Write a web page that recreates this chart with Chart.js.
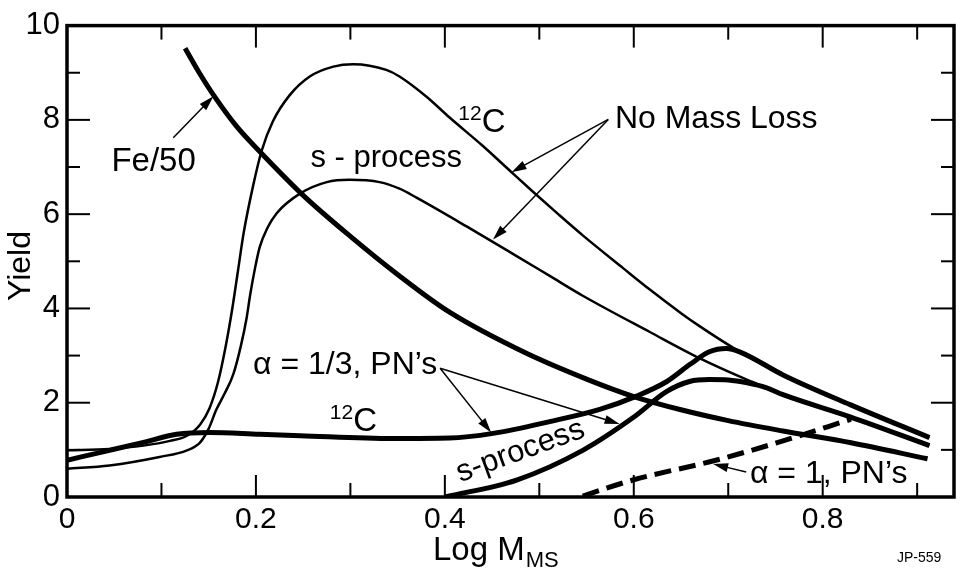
<!DOCTYPE html>
<html>
<head>
<meta charset="utf-8">
<script src="https://cdn.jsdelivr.net/npm/chart.js@4.4.1/dist/chart.umd.min.js"></script>
<style>
  html, body { margin: 0; padding: 0; background: #fff; }
  #wrap { width: 971px; height: 570px; position: relative; }
</style>
</head>
<body>
<div id="wrap"><canvas id="chart"></canvas></div>
<script>
// values (x = Log M_MS, y = yield)
const fe50X = [0.125, 0.14, 0.155, 0.18, 0.204, 0.25, 0.30, 0.352, 0.405, 0.483, 0.55, 0.60, 0.65, 0.70, 0.758, 0.83, 0.911];
const fe50Y = [9.52, 9.00, 8.53, 7.85, 7.33, 6.40, 5.53, 4.69, 3.92, 3.08, 2.50, 2.13, 1.85, 1.62, 1.40, 1.15, 0.81];

const c12X = [0, 0.045, 0.081, 0.109, 0.127, 0.141, 0.151, 0.16, 0.168, 0.175, 0.181, 0.187, 0.197, 0.206, 0.218, 0.236, 0.257, 0.282, 0.303, 0.338, 0.352, 0.38, 0.405, 0.44, 0.47, 0.493, 0.52, 0.546, 0.589, 0.617, 0.65, 0.67, 0.705, 0.758, 0.829, 0.913];
const c12Y = [0.99, 1.02, 1.09, 1.19, 1.30, 1.54, 1.89, 2.45, 3.20, 4.00, 4.80, 5.60, 6.60, 7.34, 7.97, 8.53, 8.92, 9.13, 9.18, 9.06, 8.92, 8.50, 8.05, 7.45, 6.90, 6.48, 6.00, 5.55, 4.85, 4.40, 3.90, 3.62, 3.17, 2.59, 1.96, 1.26];

const sprocX = [0, 0.045, 0.098, 0.127, 0.141, 0.15, 0.158, 0.167, 0.176, 0.184, 0.19, 0.194, 0.199, 0.204, 0.212, 0.222, 0.247, 0.275, 0.299, 0.331, 0.352, 0.37, 0.423, 0.476, 0.511, 0.546, 0.617, 0.67, 0.716, 0.74, 0.758, 0.829, 0.913];
const sprocY = [0.60, 0.67, 0.85, 0.99, 1.16, 1.45, 1.85, 2.20, 2.60, 3.20, 3.78, 4.30, 4.85, 5.30, 5.70, 6.02, 6.44, 6.68, 6.73, 6.68, 6.54, 6.35, 5.74, 5.11, 4.69, 4.27, 3.50, 2.94, 2.52, 2.32, 2.17, 1.70, 1.09];

const c12LossX = [0, 0.045, 0.081, 0.116, 0.151, 0.204, 0.247, 0.345, 0.405, 0.451, 0.511, 0.564, 0.603, 0.635, 0.66, 0.68, 0.698, 0.712, 0.758, 0.829, 0.913];
const c12LossY = [0.78, 0.99, 1.16, 1.33, 1.37, 1.33, 1.30, 1.24, 1.25, 1.35, 1.60, 1.86, 2.14, 2.45, 2.82, 3.08, 3.15, 3.08, 2.59, 1.96, 1.26];

const sprocLossX = [0.40, 0.476, 0.546, 0.599, 0.635, 0.659, 0.68, 0.70, 0.72, 0.74, 0.758, 0.829, 0.913];
const sprocLossY = [0, 0.36, 0.99, 1.68, 2.24, 2.45, 2.49, 2.48, 2.42, 2.32, 2.17, 1.70, 1.09];

const alpha1X = [0.546, 0.599, 0.687, 0.758, 0.83];
const alpha1Y = [0.02, 0.36, 0.78, 1.19, 1.65];

const xTickLabels = [0, 0.2, 0.4, 0.6, 0.8];
const yTickLabels = [0, 2, 4, 6, 8, 10];

// annotation arrows, in data coordinates: [tailX, tailY, headX, headY]
const arrows = [
  [0.1125, 7.62, 0.155, 8.50],
  [0.573, 8.01, 0.4706, 6.89],
  [0.573, 8.01, 0.451, 5.46],
  [0.395, 2.73, 0.449, 1.37],
  [0.395, 2.73, 0.585, 1.55],
  [0.719, 0.53, 0.684, 0.70]
];

const FONT = "'Liberation Sans', Arial, sans-serif";
Chart.defaults.font.family = FONT;
Chart.defaults.color = '#000';

function pts(xs, ys) {
  return xs.map((v, i) => ({ x: v, y: ys[i] }));
}

function curve(label, xs, ys, width, dash) {
  return {
    label: label,
    data: pts(xs, ys),
    borderColor: '#000',
    backgroundColor: '#000',
    borderWidth: width,
    borderDash: dash || [],
    pointRadius: 0,
    fill: false,
    cubicInterpolationMode: 'monotone'
  };
}

const decorations = {
  id: 'decorations',
  afterDraw(chart) {
    const { ctx, chartArea: a, scales } = chart;
    const X = v => scales.x.getPixelForValue(v);
    const Y = v => scales.y.getPixelForValue(v);
    const line = (x1, y1, x2, y2) => {
      ctx.beginPath(); ctx.moveTo(x1, y1); ctx.lineTo(x2, y2); ctx.stroke();
    };
    ctx.save();
    ctx.strokeStyle = '#000';
    ctx.fillStyle = '#000';

    // frame
    ctx.lineWidth = 3.5;
    ctx.strokeRect(a.left, a.top, a.right - a.left, a.bottom - a.top);

    // inward ticks on all four sides
    ctx.lineWidth = 2;
    for (let i = 1; i <= 9; i++) {
      const px = X(i / 10);
      const len = i % 2 ? 14 : 22;
      line(px, a.bottom, px, a.bottom - len);
      line(px, a.top, px, a.top + len);
    }
    for (let j = 1; j <= 9; j++) {
      const py = Y(j);
      const len = j % 2 ? 13 : 23;
      line(a.left, py, a.left + len, py);
      line(a.right, py, a.right - len, py);
    }

    // arrows
    ctx.lineWidth = 1.5;
    arrows.forEach(ar => {
      const x1 = X(ar[0]), y1 = Y(ar[1]), x2 = X(ar[2]), y2 = Y(ar[3]);
      const ang = Math.atan2(y2 - y1, x2 - x1);
      line(x1, y1, x2 - 10 * Math.cos(ang), y2 - 10 * Math.sin(ang));
      ctx.beginPath();
      ctx.moveTo(x2, y2);
      ctx.lineTo(x2 - 15 * Math.cos(ang) + 4.5 * Math.sin(ang), y2 - 15 * Math.sin(ang) - 4.5 * Math.cos(ang));
      ctx.lineTo(x2 - 15 * Math.cos(ang) - 4.5 * Math.sin(ang), y2 - 15 * Math.sin(ang) + 4.5 * Math.cos(ang));
      ctx.closePath();
      ctx.fill();
    });

    // labels
    const text = (s, xv, yv, size, align) => {
      ctx.font = size + 'px ' + FONT;
      ctx.textAlign = align || 'left';
      ctx.textBaseline = 'alphabetic';
      ctx.fillText(s, X(xv), Y(yv));
    };
    const isotope = (xv, yv) => {
      const px = X(xv), py = Y(yv);
      ctx.textAlign = 'right';
      ctx.textBaseline = 'alphabetic';
      ctx.font = '21px ' + FONT;
      ctx.fillText('12', px, py - 12);
      ctx.textAlign = 'left';
      ctx.font = '33px ' + FONT;
      ctx.fillText('C', px, py);
    };

    text('Fe/50', 0.047, 6.92, 33);
    text('s - process', 0.338, 7.0, 31, 'center');
    isotope(0.439, 7.74);
    text('No Mass Loss', 0.58, 7.82, 32);
    text('\u03b1 = 1/3, PN\u2019s', 0.197, 2.60, 32);
    isotope(0.303, 1.40);
    text('\u03b1 = 1, PN\u2019s', 0.723, 0.29, 32);

    // rotated s-process along the thick curve
    ctx.save();
    ctx.translate(X(0.480), Y(0.97));
    ctx.rotate(-20 * Math.PI / 180);
    ctx.font = '31px ' + FONT;
    ctx.textAlign = 'center';
    ctx.textBaseline = 'middle';
    ctx.fillText('s-process', 0, 0);
    ctx.restore();

    // axis titles
    ctx.font = '33px ' + FONT;
    ctx.textAlign = 'left';
    ctx.textBaseline = 'alphabetic';
    ctx.fillText('Log M', 433, 560);
    const w = ctx.measureText('Log M').width;
    ctx.font = '22px ' + FONT;
    ctx.fillText('MS', 433 + w + 1, 567);

    ctx.save();
    ctx.translate(21, 266);
    ctx.rotate(-Math.PI / 2);
    ctx.font = '32px ' + FONT;
    ctx.textAlign = 'center';
    ctx.textBaseline = 'middle';
    ctx.fillText('Yield', 0, 0);
    ctx.restore();

    ctx.font = '14px ' + FONT;
    ctx.textAlign = 'left';
    ctx.fillText('JP-559', 897, 562);

    ctx.restore();
  }
};

new Chart(document.getElementById('chart'), {
  type: 'line',
  data: {
    datasets: [
      curve('12C, no mass loss', c12X, c12Y, 2.5),
      curve('s-process, no mass loss', sprocX, sprocY, 2.5),
      curve('Fe/50', fe50X, fe50Y, 5),
      curve('12C, alpha = 1/3', c12LossX, c12LossY, 5),
      curve('s-process, alpha = 1/3', sprocLossX, sprocLossY, 5),
      curve('alpha = 1', alpha1X, alpha1Y, 5, [17, 8])
    ]
  },
  options: {
    responsive: true,
    maintainAspectRatio: false,
    animation: false,
    layout: { padding: { top: 20, right: 17, left: 0, bottom: 0 } },
    plugins: {
      legend: { display: false },
      tooltip: { enabled: false },
      title: { display: false }
    },
    scales: {
      x: {
        type: 'linear',
        min: 0,
        max: 0.939,
        grid: { display: false, drawTicks: false },
        border: { display: false },
        ticks: {
          stepSize: 0.1,
          includeBounds: false,
          autoSkip: false,
          maxRotation: 0,
          padding: 5,
          font: { size: 30 },
          callback: v => {
            const hit = xTickLabels.find(t => Math.abs(t - v) < 1e-6);
            return hit === undefined ? '' : String(hit);
          }
        },
        afterFit: s => { s.height = 73; }
      },
      y: {
        min: 0,
        max: 10,
        grid: { display: false, drawTicks: false },
        border: { display: false },
        ticks: {
          stepSize: 1,
          autoSkip: false,
          padding: 7,
          font: { size: 31 },
          callback: v => (yTickLabels.includes(v) ? String(v) : '')
        },
        afterFit: s => { s.width = 67; }
      }
    }
  },
  plugins: [decorations]
});
</script>
</body>
</html>
